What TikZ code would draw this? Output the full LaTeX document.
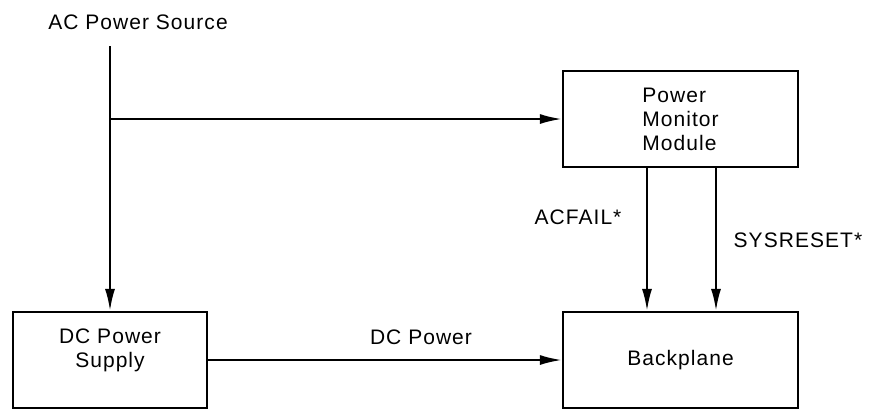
\documentclass[tikz,border=0pt]{standalone}
\usepackage{fontspec}
\setmainfont{Liberation Sans}[LetterSpace=5]
\usepackage{tikz}
\usetikzlibrary{arrows.meta}

\tikzset{
  blk/.style={draw, line width=1.1pt, inner sep=0pt},
  sig/.style={line width=1.1pt, -{Latex[length=11pt,width=5pt]}},
}

\begin{document}
\begin{tikzpicture}[x=0.5pt, y=-0.5pt, font=\fontsize{10.5}{12}\selectfont]
                \useasboundingbox (0,0) rectangle (873,409);
                % blocks
                \node[blk, minimum width=117.5pt, minimum height=48pt, align=left] (pmm) at (680.5,119) {Power\\Monitor\\Module};
                \node[blk, minimum width=97pt, minimum height=48pt, align=center] (dcps) at (110,360) {DC Power\\Supply\\\mbox{}};
                \node[blk, minimum width=117.5pt, minimum height=48pt] (bp) at (680.5,360) {Backplane};
                % source line
                \node (src) at (138,22) {AC Power Source};
                \coordinate (top) at (110,46);
                \coordinate (tap) at (110,119);
                \coordinate (af) at (647,0);
                \coordinate (sr) at (716,0);
                \draw[sig] (top) -- (dcps.north);
                \draw[sig] (tap) -- (pmm.west);
                \draw[sig] (dcps.east) -- (bp.west);
                \draw[sig] (pmm.south -| af) -- (bp.north -| af);
                \draw[sig] (pmm.south -| sr) -- (bp.north -| sr);
                \node (dcl) at (421,337) {DC Power};
                \node (afl) at (578,217) {ACFAIL*};
                \node (srl) at (798,240) {SYSRESET*};
            \end{tikzpicture}
\end{document}
